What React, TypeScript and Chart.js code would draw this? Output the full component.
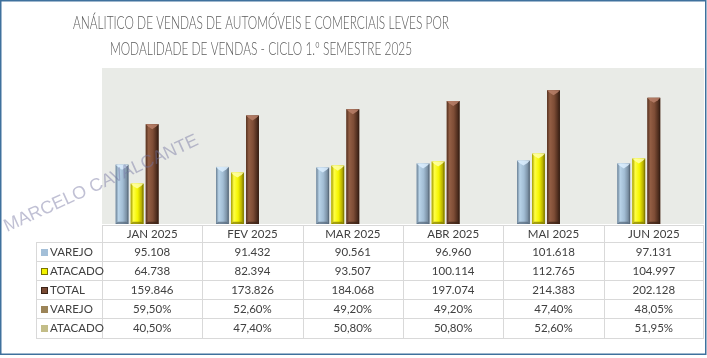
import React, { useEffect, useRef } from "react";
import { Chart, registerables } from "chart.js";

Chart.register(...registerables);

const TITLE_LINES = [
  "ANÁLITICO DE VENDAS DE AUTOMÓVEIS E COMERCIAIS LEVES POR",
  "MODALIDADE DE VENDAS - CICLO 1.º SEMESTRE 2025",
];
const MONTHS = ["JAN 2025", "FEV 2025", "MAR 2025", "ABR 2025", "MAI 2025", "JUN 2025"];
const VAREJO = [95108, 91432, 90561, 96960, 101618, 97131];
const ATACADO = [64738, 82394, 93507, 100114, 112765, 104997];
const TOTAL = [159846, 173826, 184068, 197074, 214383, 202128];
const VAREJO_PCT = [59.5, 52.6, 49.2, 49.2, 47.4, 48.05];
const ATACADO_PCT = [40.5, 47.4, 50.8, 50.8, 52.6, 51.95];
const SERIES_NAMES = ["VAREJO", "ATACADO", "TOTAL", "VAREJO", "ATACADO"];
const Y_MAX = 250000;
const WATERMARK = "MARCELO CAVALCANTE";

const BASE_COLORS = ["#a3bfd8", "#f2f200", "#7a4b34", "#9c8458", "#c3bd88"];
const SHADES = [
  { stops: ["#6a8094", "#b8d3e8", "#a2bdd4", "#7a90a4", "#4d5c6a"], top: "#dcefff", bottom: "#56687a" },
  { stops: ["#a39b00", "#ffff45", "#f4f400", "#b5ad00", "#6a6600"], top: "#ffffa8", bottom: "#7d7800" },
  { stops: ["#55311f", "#935e44", "#7e4d36", "#4e2d1e", "#2c1910"], top: "#b9806a", bottom: "#3a2216" },
];

const fmtNum = (v: number) => String(v).replace(/\B(?=(\d{3})+(?!\d))/g, ".");
const fmtPct = (v: number) => v.toFixed(2).replace(".", ",") + "%";

const ROWS: { name: string; color: string; values: string[] }[] = [
  { name: SERIES_NAMES[0], color: BASE_COLORS[0], values: VAREJO.map(fmtNum) },
  { name: SERIES_NAMES[1], color: BASE_COLORS[1], values: ATACADO.map(fmtNum) },
  { name: SERIES_NAMES[2], color: BASE_COLORS[2], values: TOTAL.map(fmtNum) },
  { name: SERIES_NAMES[3], color: BASE_COLORS[3], values: VAREJO_PCT.map(fmtPct) },
  { name: SERIES_NAMES[4], color: BASE_COLORS[4], values: ATACADO_PCT.map(fmtPct) },
];

const TEXT_FONT = '11.5px Lato, "Open Sans", sans-serif';

const framePlugin = {
  id: "frame",
  beforeDraw(chart: any) {
    const { ctx, chartArea } = chart;
    const { left, top, right, bottom } = chartArea;
    ctx.save();
    ctx.fillStyle = "#ffffff";
    ctx.fillRect(0, 0, chart.width, chart.height);
    ctx.fillStyle = "#e9ebe7";
    ctx.fillRect(left, top, right - left, bottom - top);
    // title
    ctx.fillStyle = "#5a5a5a";
    ctx.font = '300 18px Lato, "Open Sans", sans-serif';
    ctx.textAlign = "center";
    ctx.textBaseline = "alphabetic";
    const w0 = ctx.measureText(TITLE_LINES[0]).width;
    const factor = 376 / w0;
    const baselines = [29, 55];
    TITLE_LINES.forEach((line, i) => {
      ctx.save();
      ctx.translate(261, baselines[i]);
      ctx.scale(factor, 1);
      ctx.fillText(line, 0, 0);
      ctx.restore();
    });
    ctx.restore();
  },
  afterDatasetsDraw(chart: any) {
    const { ctx } = chart;
    ctx.save();
    for (let d = 0; d < 3; d++) {
      const meta = chart.getDatasetMeta(d);
      const sh = SHADES[d];
      meta.data.forEach((el: any) => {
        const { x, y, base, width } = el.getProps(["x", "y", "base", "width"], true);
        const l = x - width / 2;
        const r = x + width / 2;
        const h = base - y;
        if (h <= 0) return;
        const g = ctx.createLinearGradient(l, 0, r, 0);
        g.addColorStop(0, sh.stops[0]);
        g.addColorStop(0.22, sh.stops[1]);
        g.addColorStop(0.55, sh.stops[2]);
        g.addColorStop(0.85, sh.stops[3]);
        g.addColorStop(1, sh.stops[4]);
        ctx.fillStyle = g;
        ctx.fillRect(l, y, width, h);
        const bev = Math.min(width * 0.3, h / 2);
        ctx.fillStyle = sh.top;
        ctx.globalAlpha = 0.85;
        ctx.beginPath();
        ctx.moveTo(l, y);
        ctx.lineTo(r, y);
        ctx.lineTo(r - bev * 0.6, y + bev * 0.6);
        ctx.lineTo(x, y + bev * 1.3);
        ctx.lineTo(l + bev * 0.6, y + bev * 0.6);
        ctx.closePath();
        ctx.fill();
        ctx.fillStyle = sh.bottom;
        ctx.globalAlpha = 0.7;
        ctx.beginPath();
        ctx.moveTo(l, base);
        ctx.lineTo(r, base);
        ctx.lineTo(r - bev * 0.6, base - bev * 0.6);
        ctx.lineTo(l + bev * 0.6, base - bev * 0.6);
        ctx.closePath();
        ctx.fill();
        ctx.globalAlpha = 1;
      });
    }
    ctx.restore();
  },
  afterDraw(chart: any) {
    const { ctx, chartArea } = chart;
    const { left, right, bottom } = chartArea;
    const xs = chart.scales.x;
    const n = MONTHS.length;
    const catW = (right - left) / n;
    const headerTop = bottom + 1;
    const headerBottom = 242;
    const rowH = 19.1;
    const tableBottom = headerBottom + ROWS.length * rowH;
    const labelLeft = 36;
    const crisp = (v: number) => Math.round(v) + 0.5;

    ctx.save();
    ctx.strokeStyle = "#d9d9d9";
    ctx.lineWidth = 1;
    ctx.beginPath();
    ctx.moveTo(left, crisp(headerTop));
    ctx.lineTo(right, crisp(headerTop));
    for (let r = 0; r <= ROWS.length; r++) {
      const yy = crisp(headerBottom + r * rowH);
      ctx.moveTo(labelLeft, yy);
      ctx.lineTo(right, yy);
    }
    ctx.moveTo(crisp(labelLeft), crisp(headerBottom));
    ctx.lineTo(crisp(labelLeft), crisp(tableBottom));
    for (let i = 0; i <= n; i++) {
      const xx = i < n ? xs.getPixelForValue(i) - catW / 2 : xs.getPixelForValue(n - 1) + catW / 2;
      const cx = Math.min(crisp(xx), right - 0.5);
      ctx.moveTo(cx, crisp(headerTop));
      ctx.lineTo(cx, crisp(tableBottom));
    }
    ctx.stroke();

    ctx.fillStyle = "#404040";
    ctx.font = TEXT_FONT;
    ctx.textBaseline = "middle";
    ctx.textAlign = "center";
    MONTHS.forEach((m, i) => {
      ctx.fillText(m, xs.getPixelForValue(i), (headerTop + headerBottom) / 2 + 0.5);
    });
    ROWS.forEach((row, r) => {
      const cy = headerBottom + r * rowH + rowH / 2 + 0.5;
      ctx.textAlign = "center";
      ctx.fillStyle = "#404040";
      row.values.forEach((v, i) => {
        ctx.fillText(v, xs.getPixelForValue(i), cy);
      });
      const mx = 41;
      const my = Math.round(cy - 3.5);
      ctx.fillStyle = row.color;
      ctx.fillRect(mx, my, 7, 7);
      if (r === 1 || r === 2) {
        ctx.strokeStyle = r === 1 ? "#7a7400" : "#3a2216";
        ctx.strokeRect(mx + 0.5, my + 0.5, 6, 6);
      }
      ctx.fillStyle = "#404040";
      ctx.textAlign = "left";
      ctx.fillText(row.name, 50, cy);
    });

    // watermark
    ctx.save();
    ctx.translate(7, 232);
    ctx.rotate((-24.5 * Math.PI) / 180);
    ctx.font = '18px "Liberation Sans", Arial, sans-serif';
    ctx.fillStyle = "rgba(115, 115, 160, 0.45)";
    ctx.textAlign = "left";
    ctx.textBaseline = "alphabetic";
    ctx.fillText(WATERMARK, 0, 0);
    ctx.restore();

    // outer frame
    ctx.strokeStyle = "#3f719d";
    ctx.lineWidth = 1.5;
    ctx.strokeRect(0.75, 0.75, 705, 353.5);
    ctx.restore();
  },
};

export default function App() {
  const ref = useRef<HTMLCanvasElement | null>(null);
  useEffect(() => {
    if (!ref.current) return;
    const chart = new Chart(ref.current, {
      type: "bar",
      data: {
        labels: MONTHS,
        datasets: [
          { label: SERIES_NAMES[0], data: VAREJO, backgroundColor: BASE_COLORS[0] },
          { label: SERIES_NAMES[1], data: ATACADO, backgroundColor: BASE_COLORS[1] },
          { label: SERIES_NAMES[2], data: TOTAL, backgroundColor: BASE_COLORS[2] },
          { label: SERIES_NAMES[3] + " %", data: VAREJO_PCT.map((v) => v / 100), backgroundColor: BASE_COLORS[3] },
          { label: SERIES_NAMES[4] + " %", data: ATACADO_PCT.map((v) => v / 100), backgroundColor: BASE_COLORS[4] },
        ],
      },
      options: {
        responsive: false,
        animation: false,
        layout: { padding: { left: 102, right: 3, top: 68, bottom: 134 } },
        datasets: { bar: { categoryPercentage: 0.75, barPercentage: 0.85, borderWidth: 0 } },
        scales: {
          x: { display: false },
          y: { display: false, min: 0, max: Y_MAX },
        },
        plugins: {
          legend: { display: false },
          title: { display: false },
          tooltip: { enabled: false },
        },
      },
      plugins: [framePlugin],
    } as any);
    return () => chart.destroy();
  }, []);
  return (
    <div style={{ position: "absolute", left: 0, top: 0, width: 707, height: 358 }}>
      <canvas ref={ref} width={707} height={358} style={{ width: 707, height: 358, display: "block" }} />
    </div>
  );
}
